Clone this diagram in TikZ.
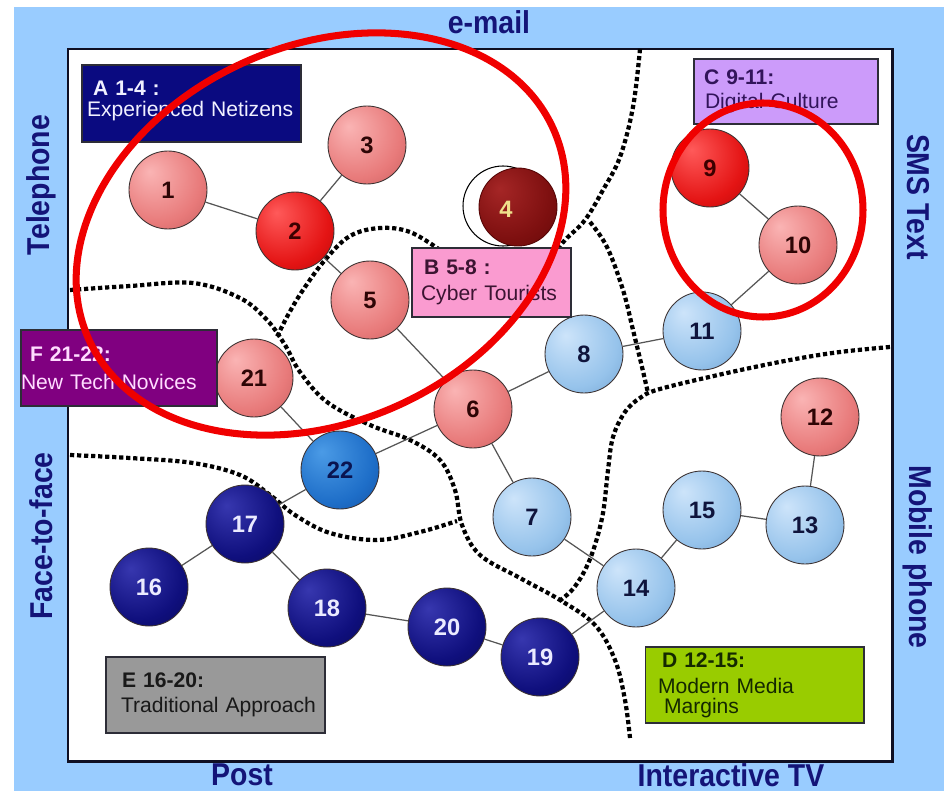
\documentclass[tikz,border=0pt]{standalone}
\usepackage{fontspec}
\setmainfont{Liberation Sans}
\definecolor{bgblue}{RGB}{153,204,255}
\definecolor{panelline}{RGB}{15,15,35}
\definecolor{axisnavy}{RGB}{20,20,120}
\definecolor{edgegray}{RGB}{85,85,85}
\definecolor{ballline}{RGB}{60,50,50}
\definecolor{salHi}{RGB}{250,180,180}
\definecolor{salBase}{RGB}{232,122,122}
\definecolor{salDk}{RGB}{180,78,78}
\definecolor{redHi}{RGB}{255,90,90}
\definecolor{redBase}{RGB}{228,20,20}
\definecolor{redDk}{RGB}{160,0,0}
\definecolor{drHi}{RGB}{165,38,38}
\definecolor{drBase}{RGB}{125,15,15}
\definecolor{drDk}{RGB}{85,5,5}
\definecolor{lbHi}{RGB}{205,228,250}
\definecolor{lbBase}{RGB}{150,195,235}
\definecolor{lbDk}{RGB}{95,145,195}
\definecolor{mbHi}{RGB}{75,155,230}
\definecolor{mbBase}{RGB}{30,110,200}
\definecolor{mbDk}{RGB}{15,65,145}
\definecolor{nvHi}{RGB}{55,55,175}
\definecolor{nvBase}{RGB}{15,15,125}
\definecolor{nvDk}{RGB}{5,5,70}
\definecolor{boxA}{RGB}{10,10,128}
\definecolor{boxB}{RGB}{250,155,208}
\definecolor{boxC}{RGB}{204,155,250}
\definecolor{boxD}{RGB}{153,204,0}
\definecolor{boxE}{RGB}{153,153,153}
\definecolor{boxF}{RGB}{128,0,128}
\definecolor{markred}{RGB}{240,0,0}
\pgfdeclareradialshading{shsal}{\pgfpoint{-12bp}{12bp}}{color(0bp)=(salHi); color(28bp)=(salBase); color(52bp)=(salDk); color(66bp)=(salDk)}
\pgfdeclareradialshading{shred}{\pgfpoint{-12bp}{12bp}}{color(0bp)=(redHi); color(28bp)=(redBase); color(52bp)=(redDk); color(66bp)=(redDk)}
\pgfdeclareradialshading{shdr}{\pgfpoint{-12bp}{12bp}}{color(0bp)=(drHi); color(28bp)=(drBase); color(52bp)=(drDk); color(66bp)=(drDk)}
\pgfdeclareradialshading{shlb}{\pgfpoint{-12bp}{12bp}}{color(0bp)=(lbHi); color(28bp)=(lbBase); color(52bp)=(lbDk); color(66bp)=(lbDk)}
\pgfdeclareradialshading{shmb}{\pgfpoint{-12bp}{12bp}}{color(0bp)=(mbHi); color(28bp)=(mbBase); color(52bp)=(mbDk); color(66bp)=(mbDk)}
\pgfdeclareradialshading{shnv}{\pgfpoint{-12bp}{12bp}}{color(0bp)=(nvHi); color(28bp)=(nvBase); color(52bp)=(nvDk); color(66bp)=(nvDk)}
\tikzset{
  ball/.style={circle, draw=ballline, line width=0.5pt, inner sep=0pt, minimum size=1.56cm, font=\fontsize{13.5}{13.5}\selectfont\bfseries, shade},
  salball/.style={ball, shading=shsal, text={rgb,255:red,45;green,5;blue,5}},
  redball/.style={ball, shading=shred, text={rgb,255:red,60;green,0;blue,0}},
  lbball/.style={ball, shading=shlb, text={rgb,255:red,15;green,20;blue,60}},
  mbball/.style={ball, shading=shmb, text={rgb,255:red,10;green,20;blue,80}},
  nvball/.style={ball, shading=shnv, text={rgb,255:red,235;green,235;blue,255}},
  edge/.style={draw=edgegray, line width=0.7pt},
  boundary/.style={draw=black, line width=2.4pt, dash pattern=on 2.4pt off 1.6pt},
  labbox/.style={draw={rgb,255:red,45;green,45;blue,55}, line width=0.6pt, rectangle, align=left, font=\fontsize{12}{14}\selectfont, inner ysep=0pt, inner xsep=0pt},
  axislab/.style={font=\fontsize{18}{18}\selectfont\bfseries, text=axisnavy, inner sep=0pt},
  redmark/.style={draw=markred, line width=4pt}
}
\begin{document}
\begin{tikzpicture}[x=0.02cm,y=-0.02cm]
\useasboundingbox (0,0) rectangle (947,791);
\fill[bgblue] (14,7) rectangle (944,791);
\filldraw[fill=white, draw=panelline, line width=1.7pt] (68,49) rectangle (892,761);

% region boundaries
\draw[boundary] plot[smooth, tension=0.6] coordinates {(640,49) (633,107) (620,157) (603,190) (585,220) (565,240) (556,252)};
\draw[boundary] plot[smooth, tension=0.6] coordinates {(590,222) (607,247) (623,290) (633,330) (642,367) (648,393)};
\draw[boundary] plot[smooth, tension=0.6] coordinates {(890,347) (840,352) (790,360) (727,373) (660,389) (640,398) (625,412) (613,437) (608,470) (603,513) (594,548) (584,572) (572,590) (558,602)};
\draw[boundary] plot[smooth, tension=0.6] coordinates {(70,290) (130,286) (193,283) (240,298) (267,320) (285,345) (300,372) (327,402) (370,425) (410,440) (440,460) (455,490) (462,525) (480,555) (520,578) (560,600) (595,625) (615,660) (625,700) (630,738)};
\draw[boundary] plot[smooth, tension=0.6] coordinates {(440,250) (410,232) (380,228) (350,236) (325,260) (303,290) (288,315) (277,337)};
\draw[boundary] plot[smooth, tension=0.6] coordinates {(70,455) (130,458) (193,463) (240,475) (270,495) (295,515) (330,533) (377,540) (420,532) (457,521)};

% balls
\node[salball] (n1) at (168,190) {1};
\node[redball] (n2) at (295,231) {2};
\node[salball] (n3) at (367,145) {3};
\draw[draw=black, line width=0.6pt, fill=white] (503,206) circle [radius=40];
\shade[shading=shdr, draw=drDk, line width=0.5pt] (518,207) circle [radius=39];
\node[inner sep=0pt, font=\fontsize{13.5}{13.5}\selectfont\bfseries, text={rgb,255:red,240;green,225;blue,140}] (n4) at (506,209) {4};
\node[salball] (n5) at (370,300) {5};
\node[salball] (n6) at (473,409) {6};
\node[lbball] (n7) at (532,517) {7};
\node[lbball] (n8) at (584,354) {8};
\node[redball] (n9) at (710,168) {9};
\node[salball] (n10) at (798,245) {10};
\node[lbball] (n11) at (702,331) {11};
\node[salball] (n12) at (820,417) {12};
\node[lbball] (n13) at (805,525) {13};
\node[lbball] (n14) at (636,588) {14};
\node[lbball] (n15) at (702,510) {15};
\node[nvball] (n16) at (149,587) {16};
\node[nvball] (n17) at (245,524) {17};
\node[nvball] (n18) at (327,608) {18};
\node[nvball] (n19) at (540,657) {19};
\node[nvball] (n20) at (447,627) {20};
\node[salball] (n21) at (254,378) {21};
\node[mbball] (n22) at (340,470) {22};

% connectors
\draw[edge] (n1) -- (n2);
\draw[edge] (n2) -- (n3);
\draw[edge] (n2) -- (n5);
\draw[edge] (n5) -- (n6);
\draw[edge] (n6) -- (n8);
\draw[edge] (n6) -- (n7);
\draw[edge] (n6) -- (n22);
\draw[edge] (n8) -- (n11);
\draw[edge] (n11) -- (n10);
\draw[edge] (n10) -- (n9);
\draw[edge] (n21) -- (n22);
\draw[edge] (n22) -- (n17);
\draw[edge] (n17) -- (n16);
\draw[edge] (n17) -- (n18);
\draw[edge] (n18) -- (n20);
\draw[edge] (n20) -- (n19);
\draw[edge] (n19) -- (n14);
\draw[edge] (n7) -- (n14);
\draw[edge] (n14) -- (n15);
\draw[edge] (n15) -- (n13);
\draw[edge] (n13) -- (n12);

% group label boxes
\node[labbox, fill=boxA, text={rgb,255:red,240;green,240;blue,255}, minimum width=4.38cm, minimum height=1.54cm, text width=4.38cm] (bA) at (191.5,103.5) {\hspace*{0.22cm}\textbf{A 1-4 :}\\[-2pt]\hspace*{0.1cm}Experienced Netizens\\[-8.5pt]\mbox{}};
\node[labbox, fill=boxB, text={rgb,255:red,60;green,20;blue,50}, minimum width=3.18cm, minimum height=1.38cm, text width=3.18cm] (bB) at (491.5,282.5) {\hspace*{0.24cm}\textbf{B 5-8 :}\\[1pt]\hspace*{0.18cm}Cyber Tourists};
\node[labbox, fill=boxC, text={rgb,255:red,50;green,20;blue,90}, minimum width=3.68cm, minimum height=1.30cm, text width=3.68cm] (bC) at (786,91.5) {\hspace*{0.2cm}\textbf{C 9-11:}\\\hspace*{0.22cm}Digital Culture};
\node[labbox, fill=boxD, text={rgb,255:red,20;green,40;blue,0}, minimum width=4.38cm, minimum height=1.52cm, text width=4.38cm] (bD) at (754.5,685) {\hspace*{0.34cm}\textbf{D 12-15:}\\[1pt]\hspace*{0.26cm}Modern Media\\[-3pt]\hspace*{0.38cm}Margins};
\node[labbox, fill=boxE, text={rgb,255:red,25;green,25;blue,25}, minimum width=4.38cm, minimum height=1.52cm, text width=4.38cm] (bE) at (215.5,695) {\hspace*{0.32cm}\textbf{E 16-20:}\\\hspace*{0.3cm}Traditional Approach};
\node[labbox, fill=boxF, text={rgb,255:red,255;green,220;blue,255}, minimum width=3.92cm, minimum height=1.52cm, text width=3.92cm] (bF) at (119,368) {\hspace*{0.18cm}\textbf{F 21-22:}\\[2pt]New Tech Novices};

% channel labels
\node[axislab] (email) at (489,22) {\scalebox{0.9}[1]{e-mail}};
\node[axislab] (post) at (242,775) {\scalebox{0.9}[1]{Post}};
\node[axislab] (itv) at (731,775) {\scalebox{0.9}[1]{Interactive TV}};
\node[axislab, rotate=90] (tel) at (41,185) {\scalebox{0.9}[1]{Telephone}};
\node[axislab, rotate=90] (f2f) at (41,536) {\scalebox{0.9}[1]{Face-to-face}};
\node[axislab, rotate=-90] (sms) at (918,197) {\scalebox{0.9}[1]{SMS Text}};
\node[axislab, rotate=-90] (mob) at (918,557) {\scalebox{0.9}[1]{Mobile phone}};

% red annotation ellipses
\begin{scope}[shift={(321,234)}, rotate=24.5]
\draw[redmark] (0,0) ellipse [x radius=255, y radius=188];
\end{scope}
\draw[redmark] (763,210) ellipse [x radius=100, y radius=107];
\end{tikzpicture}
\end{document}
